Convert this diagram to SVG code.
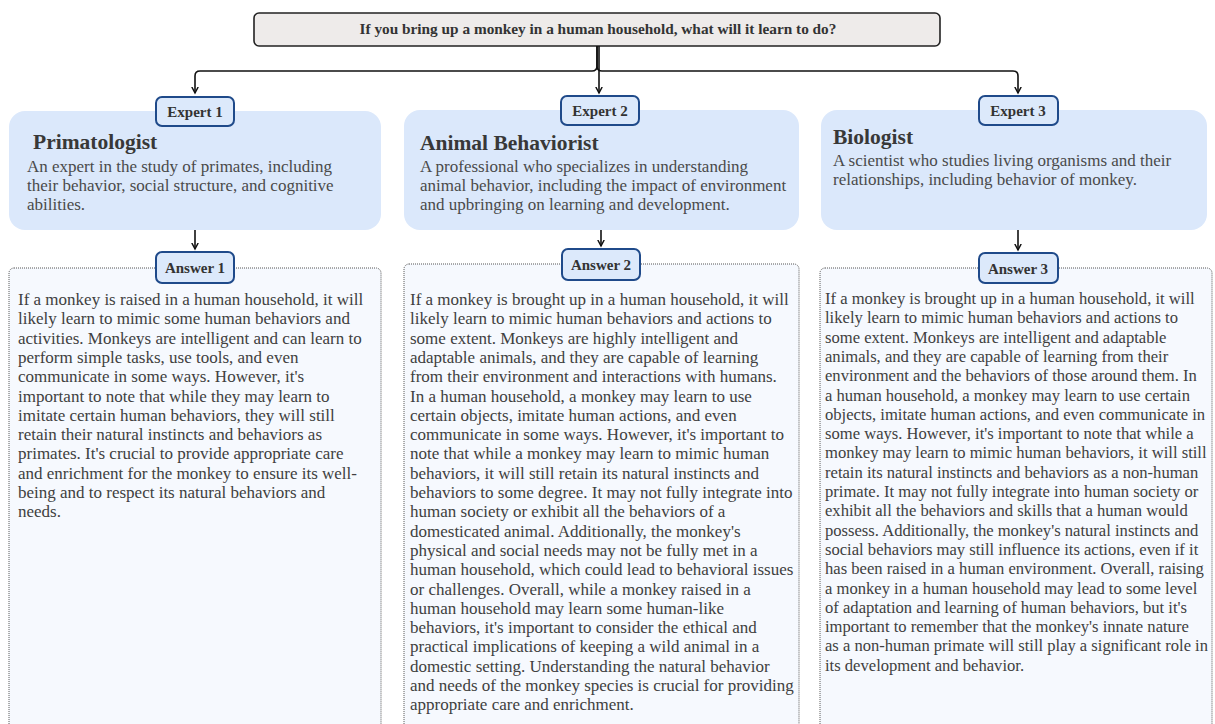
<svg xmlns="http://www.w3.org/2000/svg" width="1215" height="724" viewBox="0 0 1215 724">
<style>
.q{font-family:"Liberation Serif",serif;font-weight:bold;font-size:15.3px;fill:#333}
.badge{fill:#dce9fb;stroke:#1f4a8a;stroke-width:2}
.bt{font-family:"Liberation Serif",serif;font-weight:bold;font-size:15px;fill:#333;text-anchor:middle}
.card{fill:#dbe8fb}
.title{font-family:"Liberation Serif",serif;font-weight:bold;font-size:21.5px;fill:#383838}
.desc{font-family:"Liberation Serif",serif;font-size:17px;fill:#4a4a4a}
.ans{fill:#f6f9fe;stroke:#555;stroke-width:1;stroke-dasharray:1 1}
.at{font-family:"Liberation Serif",serif;font-size:17px;fill:#404040}
.at3{font-size:16.6px}
.con{fill:none;stroke:#111;stroke-width:1.6}
</style>
<defs>
<marker id="arr" markerWidth="8" markerHeight="8" refX="6" refY="4" orient="auto" markerUnits="userSpaceOnUse">
<path d="M0,0.8 L6,4 L0,7.2" fill="none" stroke="#111" stroke-width="1.5"/>
</marker>
</defs>

<g id="question">
<rect x="254" y="13" width="686" height="33" rx="5" fill="#eeebea" stroke="#222" stroke-width="1.6"/>
<text class="q" x="598" y="34" text-anchor="middle">If you bring up a monkey in a human household, what will it learn to do?</text>
</g>

<g id="connectors">
<path class="con" d="M597,46 V66 Q597,71 592,71 H200 Q195,71 195,76 V93" marker-end="url(#arr)"/>
<path class="con" d="M597,46 V66 Q597,71 602,71 H1013 Q1018,71 1018,76 V93" marker-end="url(#arr)"/>
<path class="con" d="M599,46 V93" marker-end="url(#arr)"/>
<path class="con" d="M195,230 V249" marker-end="url(#arr)"/>
<path class="con" d="M601,230 V246" marker-end="url(#arr)"/>
<path class="con" d="M1018,230 V250" marker-end="url(#arr)"/>
</g>

<g id="expert1">
<rect class="card" x="9" y="111" width="372" height="119" rx="16"/>
<rect class="badge" x="156" y="97" width="78" height="29" rx="6"/>
<text class="bt" x="195" y="117">Expert 1</text>
<text class="title" x="33" y="149">Primatologist</text>
<text class="desc" x="27" y="172">An expert in the study of primates, including</text>
<text class="desc" x="27" y="191">their behavior, social structure, and cognitive</text>
<text class="desc" x="27" y="210">abilities.</text>
</g>

<g id="expert2">
<rect class="card" x="404" y="110" width="395" height="120" rx="16"/>
<rect class="badge" x="561" y="96" width="78" height="29" rx="6"/>
<text class="bt" x="600" y="116">Expert 2</text>
<text class="title" x="420" y="150">Animal Behaviorist</text>
<text class="desc" x="420" y="172">A professional who specializes in understanding</text>
<text class="desc" x="420" y="191">animal behavior, including the impact of environment</text>
<text class="desc" x="420" y="210">and upbringing on learning and development.</text>
</g>

<g id="expert3">
<rect class="card" x="821" y="110" width="386" height="120" rx="16"/>
<rect class="badge" x="979" y="96" width="79" height="29" rx="6"/>
<text class="bt" x="1018" y="116">Expert 3</text>
<text class="title" x="833" y="144">Biologist</text>
<text class="desc" x="833" y="166">A scientist who studies living organisms and their</text>
<text class="desc" x="833" y="185">relationships, including behavior of monkey.</text>
</g>

<g id="answer1">
<rect class="ans" x="9" y="268" width="372" height="470" rx="5"/>
<rect class="badge" x="156" y="252" width="78" height="31" rx="6"/>
<text class="bt" x="195" y="273">Answer 1</text>
<text class="at" x="18" y="305">
<tspan x="18" dy="0">If a monkey is raised in a human household, it will</tspan>
<tspan x="18" dy="19.3">likely learn to mimic some human behaviors and</tspan>
<tspan x="18" dy="19.3">activities. Monkeys are intelligent and can learn to</tspan>
<tspan x="18" dy="19.3">perform simple tasks, use tools, and even</tspan>
<tspan x="18" dy="19.3">communicate in some ways. However, it's</tspan>
<tspan x="18" dy="19.3">important to note that while they may learn to</tspan>
<tspan x="18" dy="19.3">imitate certain human behaviors, they will still</tspan>
<tspan x="18" dy="19.3">retain their natural instincts and behaviors as</tspan>
<tspan x="18" dy="19.3">primates. It's crucial to provide appropriate care</tspan>
<tspan x="18" dy="19.3">and enrichment for the monkey to ensure its well-</tspan>
<tspan x="18" dy="19.3">being and to respect its natural behaviors and</tspan>
<tspan x="18" dy="19.3">needs.</tspan>
</text>
</g>

<g id="answer2">
<rect class="ans" x="404" y="264" width="395" height="474" rx="5"/>
<rect class="badge" x="562" y="249" width="78" height="31" rx="6"/>
<text class="bt" x="601" y="270">Answer 2</text>
<text class="at" x="410" y="305">
<tspan x="410" dy="0">If a monkey is brought up in a human household, it will</tspan>
<tspan x="410" dy="19.3">likely learn to mimic human behaviors and actions to</tspan>
<tspan x="410" dy="19.3">some extent. Monkeys are highly intelligent and</tspan>
<tspan x="410" dy="19.3">adaptable animals, and they are capable of learning</tspan>
<tspan x="410" dy="19.3">from their environment and interactions with humans.</tspan>
<tspan x="410" dy="19.3">In a human household, a monkey may learn to use</tspan>
<tspan x="410" dy="19.3">certain objects, imitate human actions, and even</tspan>
<tspan x="410" dy="19.3">communicate in some ways. However, it's important to</tspan>
<tspan x="410" dy="19.3">note that while a monkey may learn to mimic human</tspan>
<tspan x="410" dy="19.3">behaviors, it will still retain its natural instincts and</tspan>
<tspan x="410" dy="19.3">behaviors to some degree. It may not fully integrate into</tspan>
<tspan x="410" dy="19.3">human society or exhibit all the behaviors of a</tspan>
<tspan x="410" dy="19.3">domesticated animal. Additionally, the monkey's</tspan>
<tspan x="410" dy="19.3">physical and social needs may not be fully met in a</tspan>
<tspan x="410" dy="19.3">human household, which could lead to behavioral issues</tspan>
<tspan x="410" dy="19.3">or challenges. Overall, while a monkey raised in a</tspan>
<tspan x="410" dy="19.3">human household may learn some human-like</tspan>
<tspan x="410" dy="19.3">behaviors, it's important to consider the ethical and</tspan>
<tspan x="410" dy="19.3">practical implications of keeping a wild animal in a</tspan>
<tspan x="410" dy="19.3">domestic setting. Understanding the natural behavior</tspan>
<tspan x="410" dy="19.3">and needs of the monkey species is crucial for providing</tspan>
<tspan x="410" dy="19.3">appropriate care and enrichment.</tspan>
</text>
</g>

<g id="answer3">
<rect class="ans" x="820" y="268" width="392" height="470" rx="5"/>
<rect class="badge" x="979" y="253" width="79" height="30" rx="6"/>
<text class="bt" x="1018" y="274">Answer 3</text>
<text class="at at3" x="825" y="304">
<tspan x="825" dy="0">If a monkey is brought up in a human household, it will</tspan>
<tspan x="825" dy="19.3">likely learn to mimic human behaviors and actions to</tspan>
<tspan x="825" dy="19.3">some extent. Monkeys are intelligent and adaptable</tspan>
<tspan x="825" dy="19.3">animals, and they are capable of learning from their</tspan>
<tspan x="825" dy="19.3">environment and the behaviors of those around them. In</tspan>
<tspan x="825" dy="19.3">a human household, a monkey may learn to use certain</tspan>
<tspan x="825" dy="19.3">objects, imitate human actions, and even communicate in</tspan>
<tspan x="825" dy="19.3">some ways. However, it's important to note that while a</tspan>
<tspan x="825" dy="19.3">monkey may learn to mimic human behaviors, it will still</tspan>
<tspan x="825" dy="19.3">retain its natural instincts and behaviors as a non-human</tspan>
<tspan x="825" dy="19.3">primate. It may not fully integrate into human society or</tspan>
<tspan x="825" dy="19.3">exhibit all the behaviors and skills that a human would</tspan>
<tspan x="825" dy="19.3">possess. Additionally, the monkey's natural instincts and</tspan>
<tspan x="825" dy="19.3">social behaviors may still influence its actions, even if it</tspan>
<tspan x="825" dy="19.3">has been raised in a human environment. Overall, raising</tspan>
<tspan x="825" dy="19.3">a monkey in a human household may lead to some level</tspan>
<tspan x="825" dy="19.3">of adaptation and learning of human behaviors, but it's</tspan>
<tspan x="825" dy="19.3">important to remember that the monkey's innate nature</tspan>
<tspan x="825" dy="19.3" textLength="383" lengthAdjust="spacingAndGlyphs">as a non-human primate will still play a significant role in</tspan>
<tspan x="825" dy="19.3">its development and behavior.</tspan>
</text>
</g>
</svg>
